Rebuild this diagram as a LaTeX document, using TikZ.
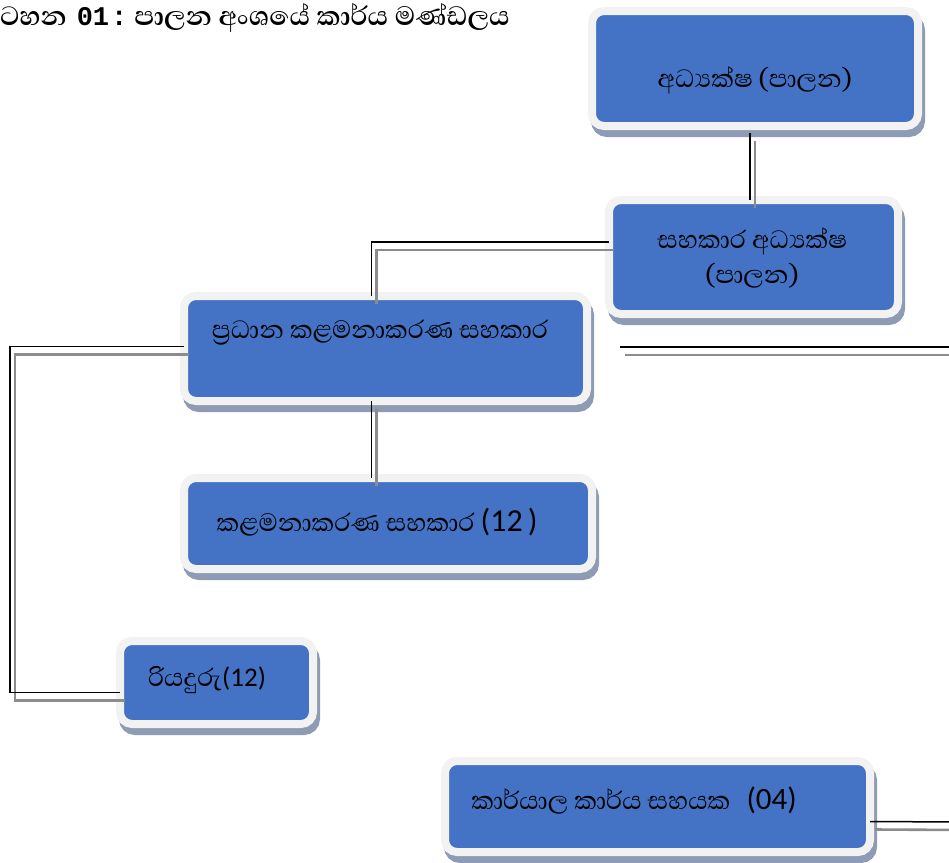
\documentclass[tikz,border=0pt]{standalone}
\usepackage{fontspec}
\newfontfamily\sinhfont[Script=Sinhala]{Abhaya Libre}
\newfontfamily\digs{Carlito}
\newfontfamily\monob{Liberation Mono}
\usetikzlibrary{calc,positioning,shadows}

\definecolor{boxblue}{HTML}{4472C4}
\definecolor{boxrim}{HTML}{F2F2F2}
\definecolor{boxshade}{HTML}{8E9BB4}
\definecolor{wiregray}{HTML}{8C8C8C}

\tikzset{
  post/.style={fill=boxblue, draw=boxrim, line width=8pt, rounded corners=12pt,
    inner sep=0pt, outer sep=0pt,
    general shadow={fill=boxshade, draw=boxshade, line width=8pt,
      shadow xshift=3pt, shadow yshift=-7pt}},
  lbl/.style={font=\sinhfont\fontsize{32}{35}\selectfont, text=black, align=center, inner sep=0pt},
  wire/.style={draw=black, line width=1.5pt,
    preaction={draw=wiregray, line width=2.6pt, transform canvas={xshift=5pt, yshift=-8pt}}},
}

\begin{document}
\begin{tikzpicture}[x=1pt, y=-1pt]
  \useasboundingbox (0,0) rectangle (949,862);

  % title
  \node[anchor=east, inner sep=0pt, font=\sinhfont\bfseries\fontsize{34}{36}\selectfont] (title) at (510,18)
    {සටහන\kern10pt{\monob\bfseries\fontsize{27}{30}\selectfont 01\kern2pt:}\kern7pt පාලන අංශයේ කාර්ය මණ්ඩලය};

  % boxes
  \node[post, minimum width=326pt, minimum height=115pt] (adh) at (755,68.5) {};
  \node[post, minimum width=289pt, minimum height=114pt] (sak) at (753.5,257) {};
  \node[post, minimum width=403pt, minimum height=105pt] (pkm) at (385.5,348.5) {};
  \node[post, minimum width=408pt, minimum height=91pt] (kms) at (388,523.5) {};
  \node[post, minimum width=193pt, minimum height=83pt] (riy) at (216.5,682.5) {};
  \node[post, minimum width=425pt, minimum height=91pt] (kks) at (657.5,806.5) {};

  % texts
  \node[lbl] (adhT) at (755,80) {අධ්‍යක්ෂ (පාලන)};
  \node[lbl] (sakT) at (752,258) {සහකාර අධ්‍යක්ෂ\\(පාලන)};
  \node[lbl] (pkmT) at (380,333) {ප්‍රධාන කළමනාකරණ සහකාර};
  \node[lbl] (kmsT) at (377,522) {කළමනාකරණ සහකාර {\digs\fontsize{32}{34}\selectfont(12\kern5pt)}};
  \node[lbl] (riyT) at (207,680) {රියදුරු{\digs\fontsize{27}{29}\selectfont(12)}};
  \node[lbl] (kksT) at (634,800) {කාර්යාල කාර්ය සහයක\enspace{\digs\fontsize{31}{33}\selectfont(04)}};

  % loose ends
  \coordinate (offA) at (620,347);
  \coordinate (offB) at (960,347);
  \coordinate (offC) at (960,822);

  % connectors
  \draw[wire] ([shift={(-5pt,-7pt)}]adh.south) -- ([xshift=-5pt]adh.south |- sak.north);
  \draw[wire] ([yshift=15pt]sak.west) -| ([xshift=-14pt]pkm.north);
  \draw[wire] ([xshift=-14pt]pkm.south) -- ([xshift=-14pt]pkm.south |- kms.north);
  \draw[wire] ([yshift=2pt]pkm.west) -- ++(-174,0) |- ([yshift=-10pt]riy.west);
  \draw[wire] (offA) -- (offB);
  \draw[wire] ([yshift=-15pt]kks.east) -- (offC);
\end{tikzpicture}
\end{document}
